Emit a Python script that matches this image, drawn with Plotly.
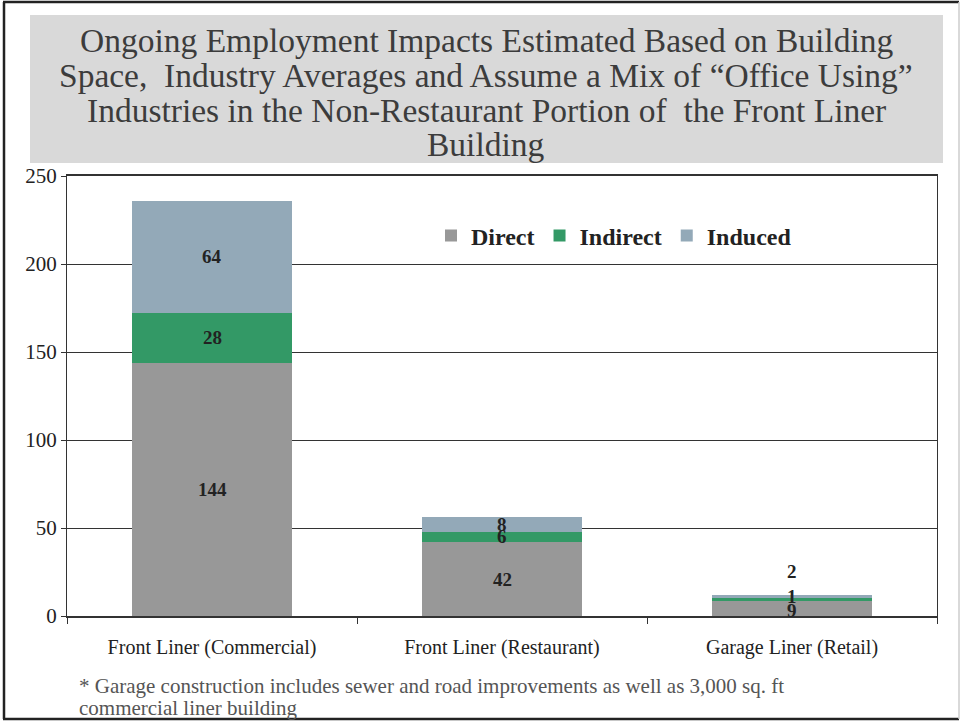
import plotly.graph_objects as go

categories = ["Front Liner (Commercial)", "Front Liner (Restaurant)", "Garage Liner (Retail)"]
direct = [144, 42, 9]
indirect = [28, 6, 1]
induced = [64, 8, 2]
series_names = ["Direct", "Indirect", "Induced"]
y_ticks = [0, 50, 100, 150, 200, 250]

title_lines = ["Ongoing Employment Impacts Estimated Based on Building",
               "Space,  Industry Averages and Assume a Mix of \u201cOffice Using\u201d",
               "Industries in the Non-Restaurant Portion of  the Front Liner",
               "Building"]
footnote_lines = ["* Garage construction includes sewer and road improvements as well as 3,000 sq. ft",
                  "commercial liner building"]

colors = ["#989898", "#339966", "#93a9b8"]
SERIF = "Liberation Serif, Times New Roman, serif"

W, H = 960, 721
L, R, T, B = 67, 937, 176, 616

def px(x):
    return (x - L) / (R - L)

def py(y):
    return (B - y) / (B - T)

fig = go.Figure()
all_series = [direct, indirect, induced]
for name, vals, col in zip(series_names, all_series, colors):
    fig.add_trace(go.Bar(x=categories, y=vals, name=name, marker=dict(color=col, line=dict(width=0)),
                         width=0.555))

# labels at segment centres
label_shift = {(2, 2): 25, (2, 1): 3, (2, 0): -2}
annotations = []
for ci, cat in enumerate(categories):
    base = 0
    for si, vals in enumerate(all_series):
        v = vals[ci]
        annotations.append(dict(x=cat, y=base + v / 2, xref="x", yref="y", text="<b>%d</b>" % v,
                                showarrow=False, font=dict(family=SERIF, size=19, color="#222222"),
                                yshift=label_shift.get((ci, si), 0)))
        base += v

for i, line in enumerate(title_lines):
    annotations.append(dict(x=px(486), y=py(40 + 35 * i), xref="paper", yref="paper", text=line,
                            showarrow=False, xanchor="center", yanchor="middle",
                            font=dict(family=SERIF, size=33.5, color="#3c3c3c")))
for i, line in enumerate(footnote_lines):
    annotations.append(dict(x=px(77), y=py(686 + 22 * i), xref="paper", yref="paper", text=line,
                            showarrow=False, xanchor="left", yanchor="middle", align="left",
                            font=dict(family=SERIF, size=21, color="#555555")))

shapes = [
    dict(type="rect", xref="paper", yref="paper", x0=px(30), x1=px(943), y0=py(163), y1=py(15),
         fillcolor="#d9d9d9", line=dict(width=0), layer="below"),
    dict(type="rect", xref="paper", yref="paper", x0=px(410), x1=px(818), y0=py(268), y1=py(210),
         fillcolor="white", line=dict(width=0), layer="between"),
    dict(type="line", xref="paper", yref="paper", x0=px(4), x1=px(4), y0=py(2), y1=py(719),
         line=dict(color="#222222", width=2.5)),
    dict(type="line", xref="paper", yref="paper", x0=px(3), x1=px(959), y0=py(2), y1=py(2),
         line=dict(color="#222222", width=2.5)),
    dict(type="line", xref="paper", yref="paper", x0=px(3), x1=px(959), y0=py(719), y1=py(719),
         line=dict(color="#222222", width=2.5)),
    dict(type="line", xref="paper", yref="paper", x0=px(959), x1=px(959), y0=py(2), y1=py(719),
         line=dict(color="#cccccc", width=1.5)),
]

fig.update_layout(
    width=W, height=H,
    margin=dict(l=L, r=W - R, t=T, b=H - B),
    paper_bgcolor="white", plot_bgcolor="white",
    barmode="stack",
    showlegend=True,
    legend=dict(orientation="h", x=px(614), y=py(236), xanchor="center", yanchor="middle",
                bgcolor="rgba(0,0,0,0)",
                font=dict(family=SERIF, size=24, color="#222222", weight="bold"),
                itemwidth=30, traceorder="normal"),
    annotations=annotations,
    shapes=shapes,
    font=dict(family=SERIF, color="#222222"),
)
fig.update_yaxes(range=[0, 250], tickvals=y_ticks, showgrid=True, gridcolor="#333333", gridwidth=1,
                 showline=True, linecolor="#333333", linewidth=1, mirror=True,
                 ticks="outside", ticklen=5, tickcolor="#333333",
                 tickfont=dict(family=SERIF, size=21, color="#222222"), zeroline=False)
fig.update_xaxes(showline=True, linecolor="#333333", linewidth=1.5, mirror=True,
                 ticks="outside", ticklen=6, tickcolor="#333333", tickson="boundaries",
                 ticklabelstandoff=12,
                 tickfont=dict(family=SERIF, size=20, color="#222222"))

fig.write_html("out.html", config={"displayModeBar": False},
               post_script="document.body.style.margin='0px';")
